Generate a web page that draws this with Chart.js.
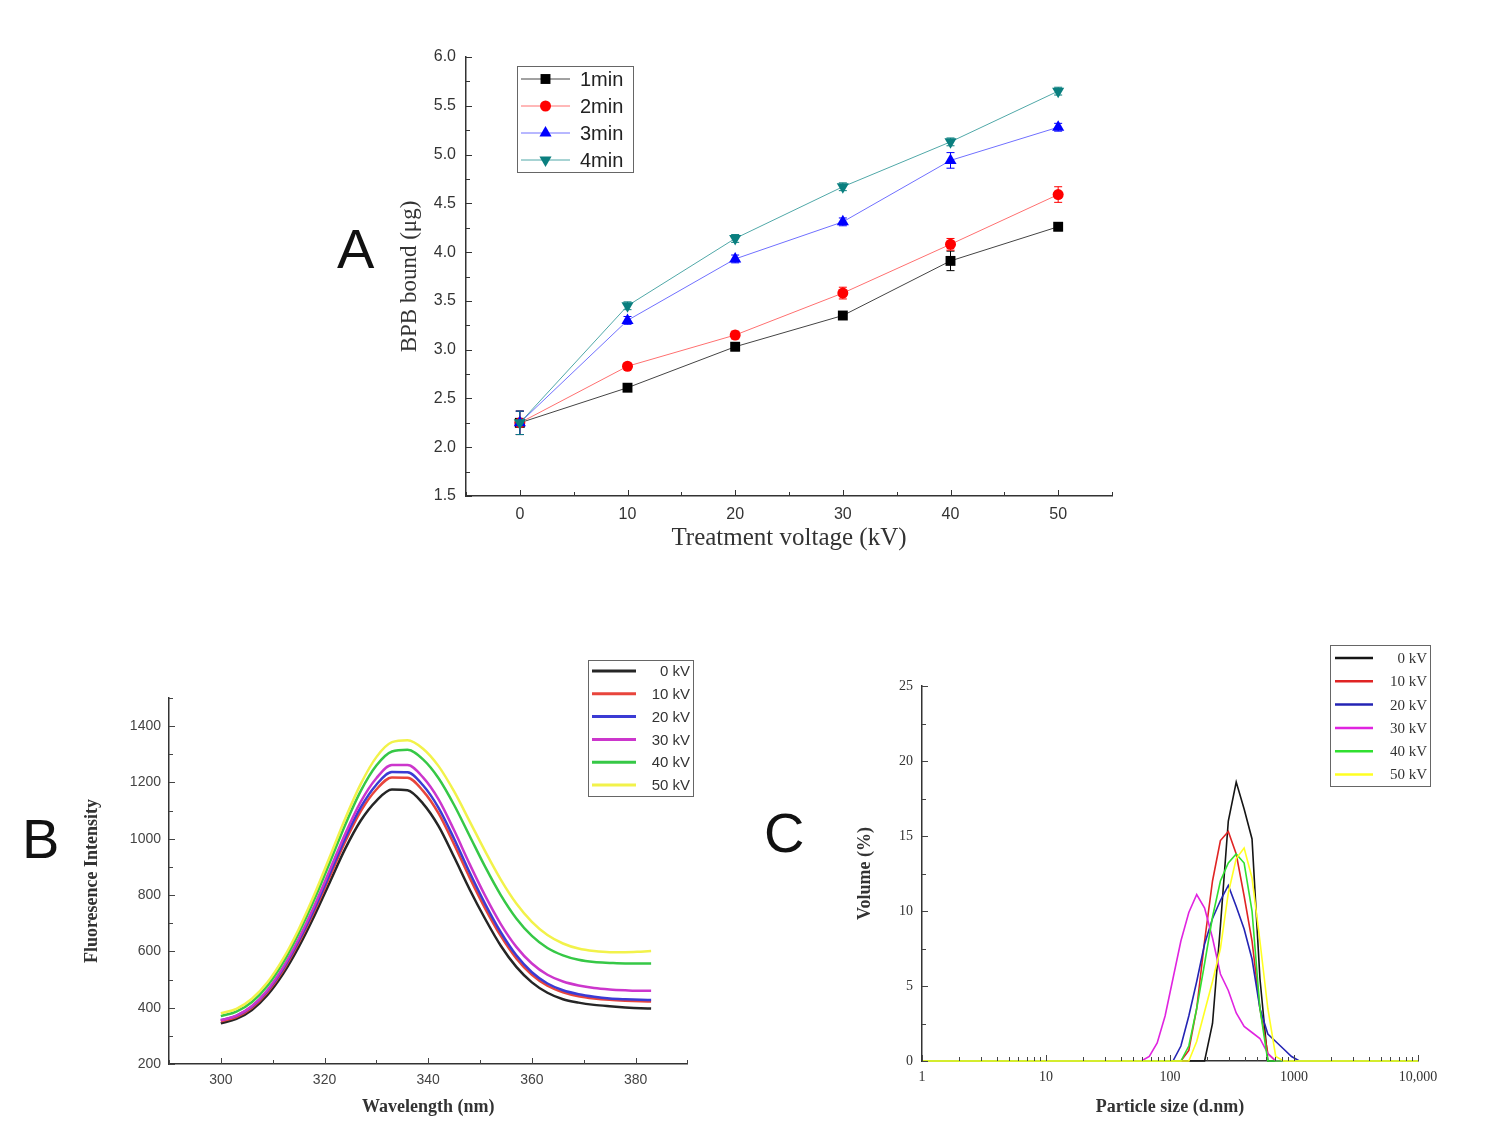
<!DOCTYPE html>
<html>
<head>
<meta charset="utf-8">
<script src="https://cdn.jsdelivr.net/npm/chart.js@4.4.0/dist/chart.umd.min.js"></script>
<style>
body { margin: 0; background: #fff; width: 1500px; height: 1137px; position: relative; overflow: hidden; }
canvas { position: absolute; }
.tag { position: absolute; font-family: "Liberation Sans", Arial, sans-serif; font-size: 56px; line-height: 1; color: #111; }
</style>
</head>
<body>
<div class="tag" style="left:337px;top:221px">A</div>
<div class="tag" style="left:22px;top:811px">B</div>
<div class="tag" style="left:764px;top:805px">C</div>
<canvas id="chartA" width="800" height="560" style="left:330px;top:20px"></canvas>
<canvas id="chartB" width="700" height="480" style="left:20px;top:650px"></canvas>
<canvas id="chartC" width="700" height="500" style="left:780px;top:630px"></canvas>
<script>
// Panel A: BPB bound vs treatment voltage
const voltages = [0, 10, 20, 30, 40, 50];
const bound1min = [2.25, 2.61, 3.03, 3.35, 3.91, 4.26];
const bound2min = [2.25, 2.83, 3.15, 3.58, 4.08, 4.59];
const bound3min = [2.25, 3.30, 3.93, 4.31, 4.94, 5.28];
const bound4min = [2.25, 3.45, 4.14, 4.67, 5.13, 5.65];
const err1min = [0.12, 0.03, 0.04, 0.04, 0.10, 0.04];
const err2min = [0.12, 0.03, 0.04, 0.06, 0.06, 0.08];
const err3min = [0.12, 0.04, 0.04, 0.04, 0.08, 0.04];
const err4min = [0.12, 0.04, 0.04, 0.04, 0.04, 0.04];
const ticksAX = [0, 10, 20, 30, 40, 50];
const ticksAY = [1.5, 2.0, 2.5, 3.0, 3.5, 4.0, 4.5, 5.0, 5.5, 6.0];

// Panel B: fluorescence spectra
const wavelengths = [300, 303, 306, 309, 312, 315, 318, 321, 324, 327, 330, 333, 336, 339, 342, 345, 348, 351, 354, 357, 360, 363, 366, 369, 372, 375, 378, 381, 383];
const fl0kV  = [345, 360, 392, 445, 520, 615, 725, 845, 965, 1065, 1135, 1175, 1172, 1125, 1045, 935, 820, 715, 620, 545, 490, 453, 430, 418, 410, 405, 401, 398, 397];
const fl10kV = [352, 367, 400, 455, 532, 630, 742, 865, 990, 1098, 1175, 1218, 1217, 1170, 1090, 980, 862, 752, 655, 575, 517, 478, 455, 441, 433, 428, 425, 423, 422];
const fl20kV = [356, 371, 404, 460, 538, 637, 750, 875, 1002, 1112, 1192, 1237, 1236, 1190, 1110, 1000, 880, 768, 668, 586, 526, 486, 462, 448, 439, 433, 430, 428, 427];
const fl30kV = [355, 372, 406, 463, 543, 644, 760, 888, 1018, 1132, 1215, 1262, 1262, 1218, 1140, 1030, 910, 797, 697, 616, 557, 517, 493, 479, 470, 465, 462, 460, 460];
const fl40kV = [370, 386, 420, 478, 560, 664, 783, 915, 1050, 1170, 1260, 1310, 1316, 1282, 1215, 1120, 1010, 900, 800, 717, 655, 612, 586, 570, 562, 559, 557, 557, 557];
const fl50kV = [380, 396, 432, 490, 573, 678, 800, 935, 1072, 1195, 1290, 1343, 1350, 1320, 1258, 1168, 1062, 955, 855, 770, 705, 658, 628, 610, 601, 597, 597, 599, 601];
const ticksBX = [300, 320, 340, 360, 380];
const ticksBY = [200, 400, 600, 800, 1000, 1200, 1400];

// Panel C: particle size distribution
const sizes = [1, 50.75, 58.77, 68.06, 78.82, 91.28, 105.7, 122.4, 141.8, 164.2, 190.1, 220.2, 255.0, 295.3, 342.0, 396.1, 458.7, 531.2, 615.1, 712.4, 825.0, 955.4, 1106, 1281, 10000];
const vol0kV  = [0, 0, 0, 0, 0, 0, 0, 0, 0, 0, 0, 2.5, 9, 16, 18.6, 16.8, 14.8, 5.5, 0, 0, 0, 0, 0, 0, 0];
const vol10kV = [0, 0, 0, 0, 0, 0, 0, 0, 0.7, 3.5, 8, 12, 14.7, 15.3, 13.8, 11, 8, 3.5, 0.5, 0, 0, 0, 0, 0, 0];
const vol20kV = [0, 0, 0, 0, 0, 0, 0, 1.0, 3.0, 5.3, 7.8, 9.5, 10.7, 11.7, 10.3, 8.8, 6.8, 3.5, 1.8, 1.3, 0.8, 0.3, 0, 0, 0];
const vol30kV = [0, 0, 0, 0.3, 1.2, 3.0, 5.5, 8.0, 9.9, 11.1, 10.2, 8.2, 5.8, 4.7, 3.2, 2.3, 1.9, 1.5, 0.5, 0, 0, 0, 0, 0, 0];
const vol40kV = [0, 0, 0, 0, 0, 0, 0, 0, 1.0, 3.5, 6.5, 9.6, 12, 13.2, 13.8, 13.2, 10, 3.5, 0, 0, 0, 0, 0, 0, 0];
const vol50kV = [0, 0, 0, 0, 0, 0, 0, 0, 0, 1.3, 3.3, 5.3, 7.5, 11.2, 13.5, 14.2, 12.2, 8.0, 3.5, 0.3, 0, 0, 0, 0, 0];
const ticksCX = [1, 10, 100, 1000, 10000];
const labelsCX = ['1', '10', '100', '1000', '10,000'];
const ticksCY = [0, 5, 10, 15, 20, 25];

const SANS = '"Liberation Sans", Arial, sans-serif';
const SERIF = '"Liberation Serif", "Times New Roman", serif';

function toPoints(xs, ys) {
    return xs.map((x, i) => ({ x: x, y: ys[i] }));
}

function setTicks(values) {
    return scale => { scale.ticks = values.map(v => ({ value: v })); };
}

// tick marks pointing into the plot (major + minor)
function tickMarks(scale) {
    const out = [];
    if (scale.type === 'logarithmic') {
        for (let d = Math.round(Math.log10(scale.min)); d <= Math.round(Math.log10(scale.max)); d++) {
            for (let k = 1; k <= 9; k++) {
                const v = k * Math.pow(10, d);
                if (v <= scale.max * 1.0001) out.push([v, k === 1]);
            }
        }
        return out;
    }
    const vals = scale.ticks.map(t => t.value);
    const step = vals[1] - vals[0];
    const half = step / 2;
    let v = vals[0] - Math.floor((vals[0] - scale.min) / half + 1e-9) * half;
    for (; v <= scale.max + 1e-9; v += half) {
        const k = (v - vals[0]) / step;
        out.push([v, Math.abs(k - Math.round(k)) < 1e-6]);
    }
    return out;
}

const innerTicks = {
    id: 'innerTicks',
    afterDatasetsDraw(chart, args, o) {
        const ctx = chart.ctx;
        const { left, bottom } = chart.chartArea;
        const xs = chart.scales.x, ys = chart.scales.y;
        ctx.save();
        ctx.strokeStyle = o.color;
        ctx.lineWidth = 1;
        ctx.beginPath();
        tickMarks(xs).forEach(([v, major]) => {
            const px = Math.round(xs.getPixelForValue(v)) + 0.5;
            ctx.moveTo(px, bottom);
            ctx.lineTo(px, bottom - (major ? o.major : o.minor));
        });
        tickMarks(ys).forEach(([v, major]) => {
            const py = Math.round(ys.getPixelForValue(v)) + 0.5;
            ctx.moveTo(left, py);
            ctx.lineTo(left + (major ? o.major : o.minor), py);
        });
        ctx.stroke();
        ctx.restore();
    }
};

const errorBars = {
    id: 'errorBars',
    beforeDatasetsDraw(chart) {
        const { ctx } = chart;
        const xs = chart.scales.x, ys = chart.scales.y;
        chart.data.datasets.forEach(ds => {
            if (!ds.errors) return;
            ctx.save();
            ctx.strokeStyle = ds.pointBackgroundColor;
            ctx.lineWidth = 1;
            ctx.beginPath();
            ds.data.forEach((p, i) => {
                const px = xs.getPixelForValue(p.x);
                const hi = ys.getPixelForValue(p.y + ds.errors[i]);
                const lo = ys.getPixelForValue(p.y - ds.errors[i]);
                ctx.moveTo(px, hi); ctx.lineTo(px, lo);
                ctx.moveTo(px - 4, hi); ctx.lineTo(px + 4, hi);
                ctx.moveTo(px - 4, lo); ctx.lineTo(px + 4, lo);
            });
            ctx.stroke();
            ctx.restore();
        });
    }
};

const boxLegend = {
    id: 'boxLegend',
    afterDraw(chart, args, o) {
        const ctx = chart.ctx;
        ctx.save();
        ctx.strokeStyle = '#666';
        ctx.lineWidth = 1;
        ctx.strokeRect(o.left + 0.5, o.top + 0.5, o.width, o.height);
        chart.data.datasets.forEach((ds, i) => {
            const yy = o.top + o.first + i * o.row;
            ctx.strokeStyle = ds.borderColor;
            ctx.lineWidth = o.lineWidth || ds.borderWidth;
            ctx.beginPath();
            ctx.moveTo(o.lineFrom, yy);
            ctx.lineTo(o.lineTo, yy);
            ctx.stroke();
            if (ds.pointRadius > 0) {
                ctx.fillStyle = ds.pointBackgroundColor;
                Chart.helpers.drawPoint(ctx, {
                    pointStyle: ds.pointStyle,
                    rotation: ds.pointRotation || 0,
                    radius: ds.pointRadius,
                    borderWidth: 0
                }, (o.lineFrom + o.lineTo) / 2, yy);
            }
            ctx.fillStyle = o.color;
            ctx.font = o.font;
            ctx.textAlign = o.align;
            ctx.textBaseline = 'middle';
            ctx.fillText(ds.label, o.textX, yy + 1);
        });
        ctx.restore();
    }
};

function axis(opts) {
    return Object.assign({
        grid: { display: false, drawTicks: false },
        border: { display: true, color: '#333', width: 1.5 }
    }, opts);
}

// Gráfico A
function serieA(label, values, errors, line, color, style, size, rotation, order) {
    return {
        label: label,
        data: toPoints(voltages, values),
        errors: errors,
        order: order,
        borderColor: line,
        borderWidth: 1,
        pointStyle: style,
        pointRotation: rotation,
        pointRadius: size,
        pointBackgroundColor: color,
        pointBorderColor: color,
        pointBorderWidth: 0,
        tension: 0
    };
}

new Chart(document.getElementById('chartA'), {
    type: 'line',
    data: {
        datasets: [
            serieA('1min', bound1min, err1min, '#444444', '#000000', 'rect', 7, 0, 4),
            serieA('2min', bound2min, err2min, '#ff7070', '#ff0000', 'circle', 5.5, 0, 3),
            serieA('3min', bound3min, err3min, '#7070ff', '#0000ff', 'triangle', 7, 0, 2),
            serieA('4min', bound4min, err4min, '#50a8a8', '#0a7f7f', 'triangle', 7, 180, 1)
        ]
    },
    options: {
        responsive: false,
        animation: false,
        layout: { padding: { left: 0, top: 37, right: 18, bottom: 0 } },
        plugins: {
            legend: { display: false },
            tooltip: { enabled: false },
            innerTicks: { color: '#333', major: 6, minor: 4 },
            boxLegend: { left: 187, top: 46, width: 116, height: 106, first: 13, row: 27,
                lineFrom: 191, lineTo: 240, textX: 250, align: 'left', font: '20px ' + SANS, color: '#222' }
        },
        scales: {
            x: axis({
                type: 'linear', min: -5, max: 55,
                afterBuildTicks: setTicks(ticksAX),
                afterFit: s => { s.height = 84; },
                ticks: { padding: 9, color: '#333', font: { family: SANS, size: 16 } },
                title: { display: true, text: 'Treatment voltage (kV)', color: '#333',
                    font: { family: SERIF, size: 25 }, padding: { top: 0, bottom: 27 } }
            }),
            y: axis({
                type: 'linear', min: 1.5, max: 6.0,
                afterBuildTicks: setTicks(ticksAY),
                afterFit: s => { s.width = 136; },
                ticks: { padding: 10, color: '#333', font: { family: SANS, size: 16 }, callback: v => v.toFixed(1) },
                title: { display: true, text: 'BPB bound (μg)', color: '#333',
                    font: { family: SERIF, size: 23 }, padding: { top: 66, bottom: 0 } }
            })
        }
    },
    plugins: [errorBars, innerTicks, boxLegend]
});

// Gráfico B
function serieB(label, values, color, order) {
    return {
        label: label,
        data: toPoints(wavelengths, values),
        order: order,
        borderColor: color,
        borderWidth: 2.5,
        pointRadius: 0,
        cubicInterpolationMode: 'monotone'
    };
}

new Chart(document.getElementById('chartB'), {
    type: 'line',
    data: {
        datasets: [
            serieB('0 kV', fl0kV, '#262626', 6),
            serieB('10 kV', fl10kV, '#e8453c', 5),
            serieB('20 kV', fl20kV, '#3b3bd4', 4),
            serieB('30 kV', fl30kV, '#cc36cc', 3),
            serieB('40 kV', fl40kV, '#36c846', 2),
            serieB('50 kV', fl50kV, '#f2f24a', 1)
        ]
    },
    options: {
        responsive: false,
        animation: false,
        layout: { padding: { left: 0, top: 48, right: 32.6, bottom: 0 } },
        plugins: {
            legend: { display: false },
            tooltip: { enabled: false },
            innerTicks: { color: '#444', major: 6, minor: 4 },
            boxLegend: { left: 568, top: 10, width: 105, height: 136, first: 11, row: 22.8,
                lineFrom: 572, lineTo: 616, textX: 670, align: 'right', lineWidth: 3,
                font: '15px ' + SANS, color: '#333' }
        },
        scales: {
            x: axis({
                type: 'linear', min: 290, max: 390,
                afterBuildTicks: setTicks(ticksBX),
                afterFit: s => { s.height = 66; },
                ticks: { padding: 8, color: '#444', font: { family: SANS, size: 14 } },
                title: { display: true, text: 'Wavelength (nm)', color: '#333',
                    font: { family: SERIF, size: 18, weight: 'bold' }, padding: { top: 0, bottom: 12 } }
            }),
            y: axis({
                type: 'linear', min: 200, max: 1500,
                afterBuildTicks: setTicks(ticksBY),
                afterFit: s => { s.width = 149; },
                ticks: { padding: 8, color: '#444', font: { family: SANS, size: 14 }, callback: v => String(v) },
                title: { display: true, text: 'Fluoresence Intensity', color: '#333',
                    font: { family: SERIF, size: 18, weight: 'bold' }, padding: { top: 62, bottom: 0 } }
            })
        }
    },
    plugins: [innerTicks, boxLegend]
});

// Gráfico C
function serieC(label, values, color, order) {
    return {
        label: label,
        data: toPoints(sizes, values),
        order: order,
        borderColor: color,
        borderWidth: 1.6,
        pointRadius: 0,
        tension: 0,
        clip: false
    };
}

new Chart(document.getElementById('chartC'), {
    type: 'line',
    data: {
        datasets: [
            serieC('0 kV', vol0kV, '#151515', 6),
            serieC('10 kV', vol10kV, '#e02424', 5),
            serieC('20 kV', vol20kV, '#2424b4', 4),
            serieC('30 kV', vol30kV, '#e024e0', 3),
            serieC('40 kV', vol40kV, '#30e030', 2),
            serieC('50 kV', vol50kV, '#ffff22', 1)
        ]
    },
    options: {
        responsive: false,
        animation: false,
        layout: { padding: { left: 0, top: 56, right: 62, bottom: 0 } },
        plugins: {
            legend: { display: false },
            tooltip: { enabled: false },
            innerTicks: { color: '#444', major: 6, minor: 4 },
            boxLegend: { left: 550, top: 15, width: 100, height: 141, first: 13, row: 23.3,
                lineFrom: 555, lineTo: 593, textX: 647, align: 'right', lineWidth: 2.5,
                font: '15px ' + SERIF, color: '#333' }
        },
        scales: {
            x: axis({
                type: 'logarithmic', min: 1, max: 10000,
                afterBuildTicks: setTicks(ticksCX),
                afterFit: s => { s.height = 69; },
                ticks: { padding: 8, color: '#333', autoSkip: false, maxRotation: 0,
                    font: { family: SERIF, size: 14 }, callback: (v, i) => labelsCX[i] },
                title: { display: true, text: 'Particle size (d.nm)', color: '#333',
                    font: { family: SERIF, size: 18, weight: 'bold' }, padding: { top: 0, bottom: 12 } }
            }),
            y: axis({
                type: 'linear', min: 0, max: 25,
                afterBuildTicks: setTicks(ticksCY),
                afterFit: s => { s.width = 142; },
                ticks: { padding: 9, color: '#333', font: { family: SERIF, size: 14 } },
                title: { display: true, text: 'Volume (%)', color: '#333',
                    font: { family: SERIF, size: 18, weight: 'bold' }, padding: { top: 75, bottom: 0 } }
            })
        }
    },
    plugins: [innerTicks, boxLegend]
});
</script>
</body>
</html>
